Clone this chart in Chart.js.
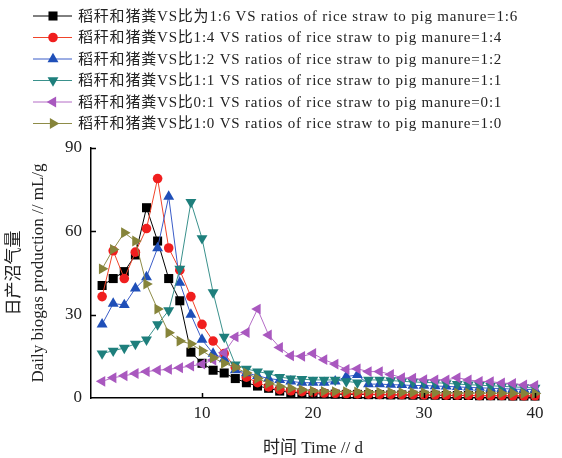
<!DOCTYPE html>
<html>
<head>
<meta charset="utf-8">
<script src="https://cdn.jsdelivr.net/npm/chart.js@4/dist/chart.umd.min.js"></script>
<style>
  html, body { margin: 0; padding: 0; background: #fff; }
  #wrap { width: 562px; height: 458px; }
</style>
</head>
<body>
<div id="wrap"><canvas id="biogas" width="562" height="458"></canvas></div>
<script>
// daily biogas production, six straw:manure ratios

const days = [1, 2, 3, 4, 5, 6, 7, 8, 9, 10, 11, 12, 13, 14, 15, 16, 17, 18, 19, 20,
  21, 22, 23, 24, 25, 26, 27, 28, 29, 30, 31, 32, 33, 34, 35, 36, 37, 38, 39, 40];

const ratio16 = [40.5, 43, 45.5, 51.5, 68.5, 56.5, 43, 35, 16.5, 12.5, 10, 9, 7, 5.5, 4.3, 3.5, 2.5, 2, 1.8, 1.5,
  1.5, 1.4, 1.3, 1.3, 1.2, 1.2, 1.1, 1.1, 1, 1, 1, 0.9, 0.9, 0.9, 0.8, 0.8, 0.8, 0.7, 0.7, 0.7];
const ratio14 = [36.5, 53, 43, 52.5, 61, 79, 54, 46, 36.5, 26.5, 20.5, 16, 11, 7.5, 5.5, 4, 3, 2.6, 2.3, 2,
  1.8, 1.7, 1.6, 1.5, 1.4, 1.3, 1.3, 1.2, 1.2, 1.1, 1.1, 1, 1, 1, 0.9, 0.9, 0.9, 0.8, 0.8, 0.8];
const ratio12 = [26.5, 34, 33.5, 39.5, 43.5, 54, 72.5, 41.5, 30, 21, 16, 14, 10, 9, 8, 7, 6.5, 6, 5.5, 5.5,
  5.5, 6, 7.7, 8.3, 5, 5, 4.8, 4.7, 4.5, 4.5, 4.3, 4.2, 4, 3.8, 3.7, 3.5, 3.4, 3.2, 3.1, 3];
const ratio11 = [16, 17, 18, 19.5, 21, 26.5, 31.5, 46.5, 70.5, 57.5, 38, 22, 12, 10.5, 9.5, 8.8, 7.5, 7, 6.8, 6.5,
  6.5, 6.5, 6, 5.5, 6.5, 6.5, 6.3, 6, 5.8, 5.6, 5.5, 5.3, 5, 4.8, 4.6, 4.4, 4.2, 4, 3.8, 3.6];
const ratio01 = [6, 7.3, 8, 8.8, 9.5, 10, 10.3, 10.9, 11.5, 12.2, 13.7, 16.3, 22, 23.6, 32, 22.7, 18.2, 15.2, 15, 16,
  13.8, 12.2, 10.3, 10.5, 9.5, 9.5, 8.5, 7.3, 7.1, 6.6, 6.5, 6.5, 7.3, 6.5, 6, 5.9, 5.4, 5.2, 4.7, 4.5];
const ratio10 = [46.5, 53.5, 59.5, 56.5, 41, 32, 23.5, 20.5, 19.5, 17, 14.5, 12.5, 11, 9, 7, 5.3, 4.2, 3.5, 3, 2.5,
  2.4, 2.3, 2.3, 2.2, 2.2, 2.1, 2.1, 2, 2, 2, 1.9, 1.9, 1.8, 1.8, 1.8, 1.7, 1.7, 1.7, 1.6, 1.6];

const seriesLabels = [
  '稻秆和猪粪VS比为1:6 VS ratios of rice straw to pig manure=1:6',
  '稻秆和猪粪VS比1:4 VS ratios of rice straw to pig manure=1:4',
  '稻秆和猪粪VS比1:2 VS ratios of rice straw to pig manure=1:2',
  '稻秆和猪粪VS比1:1 VS ratios of rice straw to pig manure=1:1',
  '稻秆和猪粪VS比0:1 VS ratios of rice straw to pig manure=0:1',
  '稻秆和猪粪VS比1:0 VS ratios of rice straw to pig manure=1:0'
];

const xTicks = [10, 20, 30, 40];
const yTicks = [0, 30, 60, 90];

const SERIF = '"Liberation Serif", "Noto Sans CJK SC", serif';

function pts(vals) {
  return vals.map((v, i) => ({ x: days[i], y: v }));
}

function series(i, vals, color, lineColor, style, rot, r) {
  return {
    label: seriesLabels[i],
    data: pts(vals),
    borderColor: lineColor,
    backgroundColor: color,
    borderWidth: 1,
    pointStyle: style,
    pointRotation: rot,
    pointRadius: r,
    pointBorderWidth: 0,
    pointBackgroundColor: color,
    pointBorderColor: color,
    order: 5 - i
  };
}

// legend with line + marker, and ticks pointing into the plot
const overlay = {
  id: 'overlay',
  afterDraw(chart) {
    const ctx = chart.ctx;
    const xs = chart.scales.x, ys = chart.scales.y;
    ctx.save();
    ctx.strokeStyle = '#000';
    ctx.lineWidth = 1.5;
    ctx.beginPath();
    xTicks.forEach(v => {
      const px = Math.round(xs.getPixelForValue(v)) + 0.5;
      ctx.moveTo(px, ys.bottom);
      ctx.lineTo(px, ys.bottom - 5);
    });
    yTicks.forEach(v => {
      if (v === 0) return;
      const py = Math.round(ys.getPixelForValue(v)) + 0.5;
      ctx.moveTo(xs.left, py);
      ctx.lineTo(xs.left + 5, py);
    });
    ctx.stroke();

    chart.data.datasets.forEach((ds, i) => {
      const cy = 16 + i * 21.5;
      ctx.strokeStyle = ds.borderColor;
      ctx.lineWidth = 1;
      ctx.beginPath();
      ctx.moveTo(33, cy);
      ctx.lineTo(72, cy);
      ctx.stroke();
      ctx.fillStyle = ds.pointBackgroundColor;
      Chart.helpers.drawPoint(ctx, {
        pointStyle: ds.pointStyle,
        rotation: ds.pointRotation,
        radius: ds.pointRadius,
        borderWidth: 0
      }, 53, cy);
      ctx.fillStyle = '#222';
      ctx.font = '15px ' + SERIF;
      ctx.letterSpacing = '0.8px';
      ctx.textBaseline = 'middle';
      ctx.textAlign = 'left';
      ctx.fillText(ds.label, 78, cy + 1);
    });
    ctx.restore();
  }
};

new Chart(document.getElementById('biogas'), {
  type: 'line',
  data: {
    datasets: [
      series(0, ratio16, '#000000', '#000000', 'rect', 0, 6.4),
      series(1, ratio14, '#f01e1e', '#f0442a', 'circle', 0, 4.8),
      series(2, ratio12, '#1f4fb8', '#3a5cc8', 'triangle', 0, 6.3),
      series(3, ratio11, '#1e7f7c', '#3a918c', 'triangle', 180, 6.3),
      series(4, ratio01, '#a958bf', '#b46cc6', 'triangle', 270, 6.3),
      series(5, ratio10, '#86843a', '#8e8c48', 'triangle', 90, 6.3)
    ]
  },
  options: {
    responsive: false,
    animation: false,
    clip: false,
    layout: { padding: { top: 148, right: 27, left: 0, bottom: 0 } },
    plugins: {
      legend: { display: false },
      tooltip: { enabled: false }
    },
    scales: {
      x: {
        type: 'linear',
        min: 0,
        max: 40,
        afterFit: s => { s.height = 60; },
        afterBuildTicks: s => { s.ticks = xTicks.map(v => ({ value: v })); },
        grid: { display: true, drawOnChartArea: false, drawTicks: false },
        border: { display: true, color: '#000', width: 1.5 },
        ticks: {
          padding: 5,
          color: '#222',
          font: { family: SERIF, size: 17 }
        },
        title: {
          display: true,
          text: '时间 Time // d',
          color: '#222',
          font: { family: SERIF, size: 17, lineHeight: 1.1 },
          padding: { top: 0, bottom: 0 }
        }
      },
      y: {
        min: 0,
        max: 90,
        afterFit: s => { s.width = 91; },
        afterBuildTicks: s => { s.ticks = yTicks.map(v => ({ value: v })); },
        grid: { display: true, drawOnChartArea: false, drawTicks: false },
        border: { display: true, color: '#000', width: 1.5 },
        ticks: {
          padding: 9,
          color: '#222',
          font: { family: SERIF, size: 17 }
        },
        title: {
          display: true,
          text: ['日产沼气量', 'Daily biogas production // mL/g'],
          color: '#222',
          font: { family: SERIF, size: 17, lineHeight: 1.4 },
          padding: { top: 3, bottom: 0 }
        }
      }
    }
  },
  plugins: [overlay]
});
</script>
</body>
</html>
